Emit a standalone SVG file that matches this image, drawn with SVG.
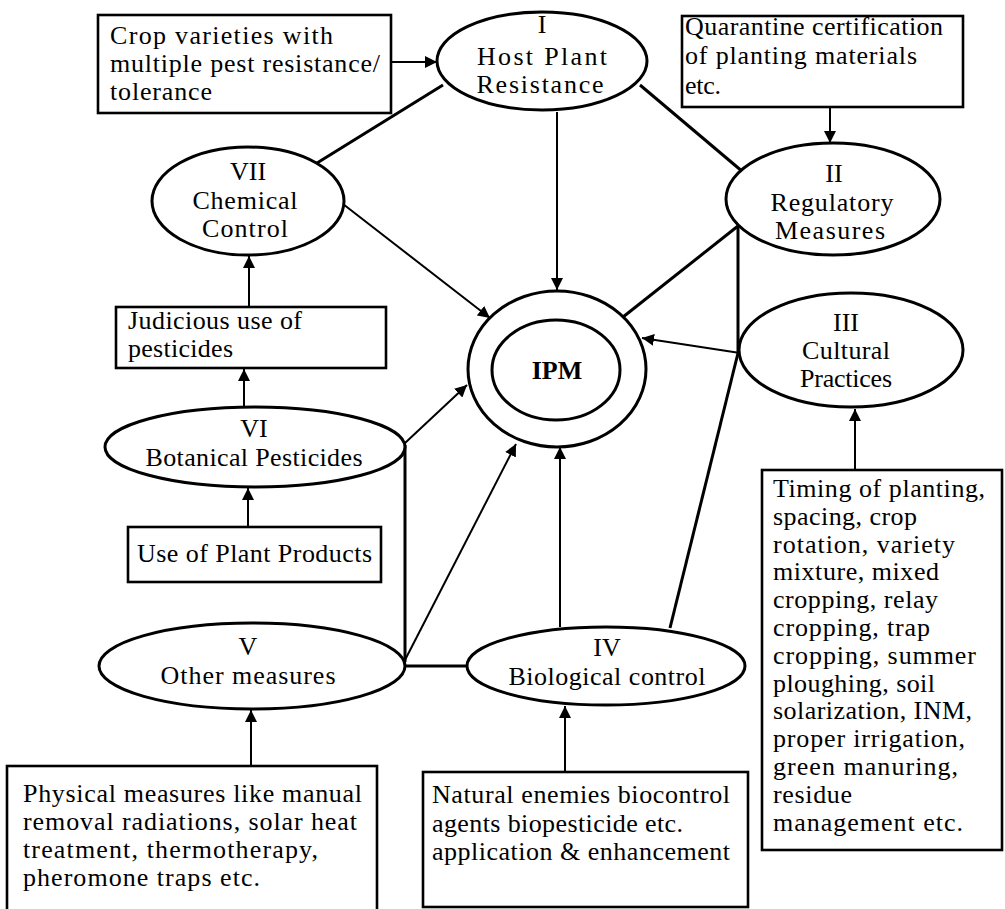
<svg xmlns="http://www.w3.org/2000/svg" width="1005" height="909" viewBox="0 0 1005 909">
<style>
  .node { fill: #fff; stroke: #000; stroke-width: 3; }
  .box { fill: #fff; stroke: #000; stroke-width: 2.6; }
  .t { font-family: "Liberation Serif", "Times New Roman", serif; font-size: 26px; fill: #000; }
  .c { text-anchor: middle; }
  .ln { stroke: #000; stroke-width: 3; fill: none; }
  .ar { stroke: #000; stroke-width: 2; fill: none; marker-end: url(#ah); }
</style>
<defs>
  <marker id="ah" viewBox="0 0 10 10" refX="10" refY="5" markerWidth="6" markerHeight="6" markerUnits="strokeWidth" orient="auto">
    <path d="M0,0 L10,5 L0,10 z" fill="#000"/>
  </marker>
</defs>
<rect width="1005" height="909" fill="#fff"/>

<g id="connectors">
  <line class="ln" x1="443" y1="85" x2="317" y2="163"/>
  <line class="ln" x1="640" y1="85" x2="743" y2="172"/>
  <line class="ln" x1="738" y1="226" x2="623" y2="317"/>
  <line class="ln" x1="738" y1="226" x2="738" y2="353"/>
  <line class="ln" x1="738" y1="353" x2="670" y2="628"/>
  <line class="ln" x1="405" y1="445" x2="405" y2="662"/>
  <line class="ln" x1="405" y1="666" x2="467" y2="666"/>
  <line class="ar" x1="391" y1="62" x2="437" y2="62"/>
  <line class="ar" x1="830" y1="107" x2="830" y2="143"/>
  <line class="ar" x1="557" y1="112" x2="557" y2="290"/>
  <line class="ar" x1="343" y1="204" x2="490" y2="318"/>
  <line class="ar" x1="740" y1="353" x2="642" y2="338"/>
  <line class="ar" x1="249" y1="307" x2="249" y2="256"/>
  <line class="ar" x1="244" y1="407" x2="244" y2="369"/>
  <line class="ar" x1="248" y1="527" x2="248" y2="488"/>
  <line class="ar" x1="405" y1="443" x2="467" y2="385"/>
  <line class="ar" x1="405" y1="660" x2="516" y2="444"/>
  <line class="ar" x1="560" y1="627" x2="560" y2="447"/>
  <line class="ar" x1="855" y1="470" x2="855" y2="409"/>
  <line class="ar" x1="565" y1="772" x2="565" y2="706"/>
  <line class="ar" x1="251" y1="766" x2="251" y2="710"/>
</g>

<g id="ipm">
  <ellipse class="node" cx="557" cy="369" rx="89" ry="78"/>
  <ellipse class="node" cx="556" cy="370" rx="64" ry="50"/>
  <text class="t c" x="557" y="379" font-weight="bold" font-size="22">IPM</text>
</g>

<g id="n1">
  <ellipse class="node" cx="542" cy="61" rx="105" ry="49"/>
  <text class="t c" x="542" y="33">I</text>
  <text class="t c" x="542" y="65" textLength="130">Host Plant</text>
  <text class="t c" x="540" y="93" textLength="127">Resistance</text>
</g>

<g id="n2">
  <ellipse class="node" cx="833" cy="199" rx="107" ry="56"/>
  <text class="t c" x="834" y="182">II</text>
  <text class="t c" x="832" y="211" textLength="123">Regulatory</text>
  <text class="t c" x="830" y="239" textLength="110">Measures</text>
</g>

<g id="n3">
  <ellipse class="node" cx="851" cy="350" rx="112" ry="57"/>
  <text class="t c" x="846" y="331">III</text>
  <text class="t c" x="846" y="359" textLength="88">Cultural</text>
  <text class="t c" x="846" y="387" textLength="92">Practices</text>
</g>

<g id="n4">
  <ellipse class="node" cx="606" cy="666" rx="139" ry="39"/>
  <text class="t c" x="607" y="656">IV</text>
  <text class="t c" x="607" y="685" textLength="197">Biological control</text>
</g>

<g id="n5">
  <ellipse class="node" cx="252" cy="666" rx="153" ry="43"/>
  <text class="t c" x="248" y="655">V</text>
  <text class="t c" x="248" y="684" textLength="175">Other measures</text>
</g>

<g id="n6">
  <ellipse class="node" cx="255" cy="447" rx="150" ry="40"/>
  <text class="t c" x="254" y="437">VI</text>
  <text class="t c" x="254" y="466" textLength="217">Botanical Pesticides</text>
</g>

<g id="n7">
  <ellipse class="node" cx="248" cy="201" rx="96" ry="54"/>
  <text class="t c" x="248" y="180">VII</text>
  <text class="t c" x="245" y="209" textLength="105">Chemical</text>
  <text class="t c" x="245" y="237" textLength="86">Control</text>
</g>

<g id="b-crop">
  <rect class="box" x="98" y="15" width="293" height="98"/>
  <text class="t" x="110" y="44" textLength="223">Crop varieties with</text>
  <text class="t" x="110" y="72" textLength="270">multiple pest resistance/</text>
  <text class="t" x="110" y="100" textLength="102">tolerance</text>
</g>

<g id="b-quarantine">
  <rect class="box" x="682" y="16" width="281" height="91"/>
  <text class="t" x="685" y="35" textLength="258">Quarantine certification</text>
  <text class="t" x="685" y="64" textLength="232">of planting materials</text>
  <text class="t" x="685" y="94" textLength="36">etc.</text>
</g>

<g id="b-judicious">
  <rect class="box" x="116" y="307" width="270" height="61"/>
  <text class="t" x="128" y="329" textLength="174">Judicious use of</text>
  <text class="t" x="128" y="357" textLength="105">pesticides</text>
</g>

<g id="b-plant">
  <rect class="box" x="128" y="527" width="253" height="55"/>
  <text class="t" x="137" y="562" textLength="235">Use of Plant Products</text>
</g>

<g id="b-physical">
  <rect class="box" x="7" y="766" width="370" height="150"/>
  <text class="t" x="23" y="802" textLength="339">Physical measures like manual</text>
  <text class="t" x="23" y="830" textLength="334">removal radiations, solar heat</text>
  <text class="t" x="23" y="858" textLength="295">treatment, thermotherapy,</text>
  <text class="t" x="23" y="886" textLength="237">pheromone traps etc.</text>
</g>

<g id="b-natural">
  <rect class="box" x="423" y="772" width="325" height="135"/>
  <text class="t" x="432" y="803" textLength="298">Natural enemies biocontrol</text>
  <text class="t" x="432" y="832" textLength="251">agents biopesticide etc.</text>
  <text class="t" x="432" y="860" textLength="298">application &amp; enhancement</text>
</g>

<g id="b-timing">
  <rect class="box" x="762" y="470" width="240" height="380"/>
  <text class="t" x="773" y="497" textLength="212">Timing of planting,</text>
  <text class="t" x="773" y="525" textLength="144">spacing, crop</text>
  <text class="t" x="773" y="553" textLength="182">rotation, variety</text>
  <text class="t" x="773" y="580" textLength="166">mixture, mixed</text>
  <text class="t" x="773" y="608" textLength="165">cropping, relay</text>
  <text class="t" x="773" y="636" textLength="157">cropping, trap</text>
  <text class="t" x="773" y="664" textLength="203">cropping, summer</text>
  <text class="t" x="773" y="692" textLength="162">ploughing, soil</text>
  <text class="t" x="773" y="719" textLength="199">solarization, INM,</text>
  <text class="t" x="773" y="747" textLength="192">proper irrigation,</text>
  <text class="t" x="773" y="775" textLength="185">green manuring,</text>
  <text class="t" x="773" y="803" textLength="79">residue</text>
  <text class="t" x="773" y="831" textLength="190">management etc.</text>
</g>
</svg>
